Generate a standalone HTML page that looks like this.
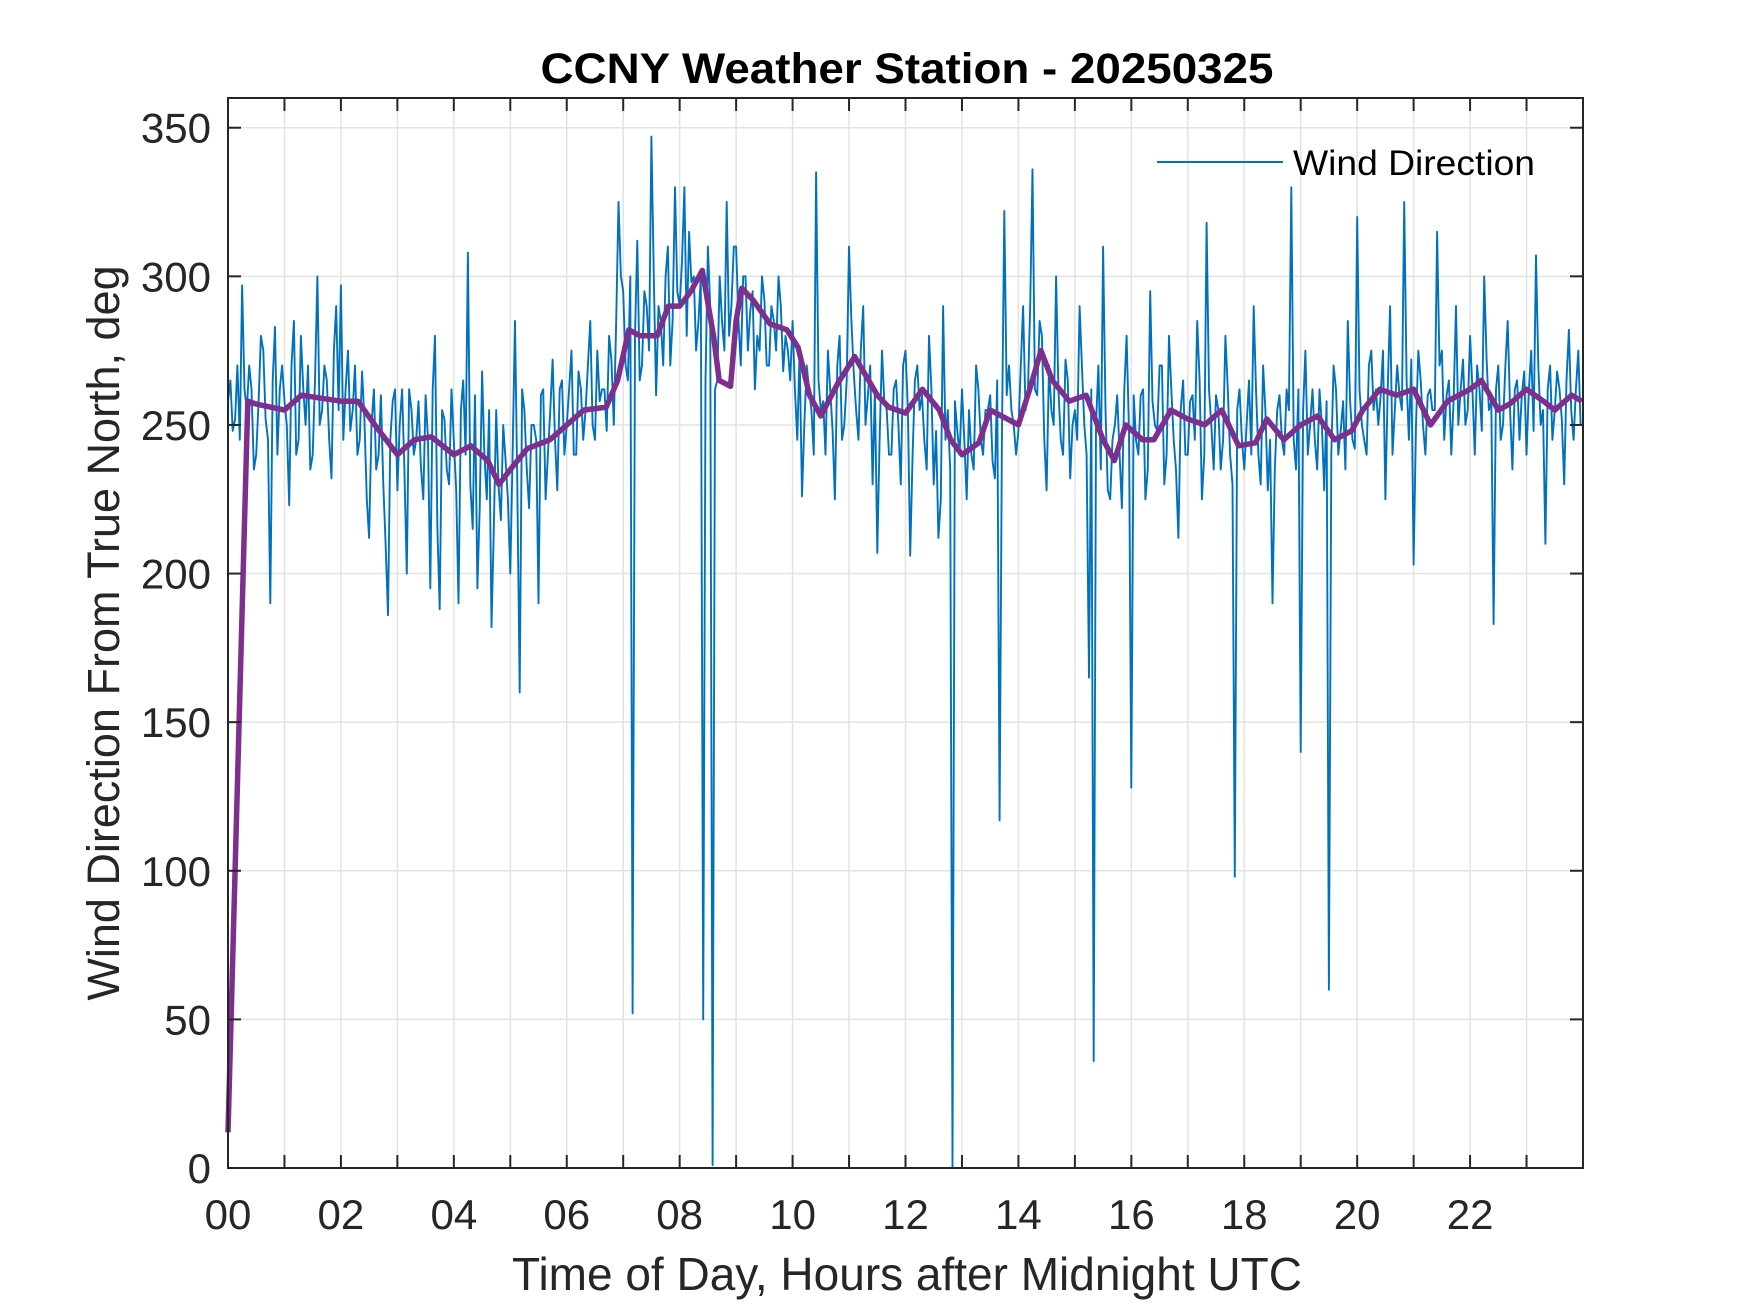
<!DOCTYPE html>
<html><head><meta charset="utf-8"><style>
html,body{margin:0;padding:0;background:#fff;}
svg{display:block;font-family:"Liberation Sans",Arial,sans-serif;}
</style></head><body>
<svg id="chart" width="1750" height="1313" viewBox="0 0 1750 1313">
<rect x="0" y="0" width="1750" height="1313" fill="#fff"/>
<g id="grid"></g>
<g id="series"></g>
<g id="axes"></g>
<text x="907" y="83" text-anchor="middle" font-size="43" font-weight="bold" fill="#000" textLength="733" lengthAdjust="spacingAndGlyphs">CCNY Weather Station - 20250325</text>
<text x="907" y="1290" text-anchor="middle" font-size="46" fill="#262626">Time of Day, Hours after Midnight UTC</text>
<text transform="translate(119,633) rotate(-90)" text-anchor="middle" font-size="45" fill="#262626">Wind Direction From True North, deg</text>
<g>
<line x1="1157" y1="162" x2="1283" y2="162" stroke="#0072BD" stroke-width="2"/>
<text x="1293" y="175" font-size="35" fill="#000" textLength="242" lengthAdjust="spacingAndGlyphs">Wind Direction</text>
</g>
</svg>
<script>
const xTickLabels = ["00","02","04","06","08","10","12","14","16","18","20","22"];
const yTicks = [0,50,100,150,200,250,300,350];
const windDir = [
258,248,270,297,255,262,240,280,252,190,283,262,
258,223,285,245,262,270,240,300,255,265,232,290,
297,262,248,270,245,252,212,262,240,230,186,258,
228,262,200,255,245,236,260,195,280,188,252,230,
245,190,265,308,215,195,268,225,182,255,218,238,
200,285,160,255,222,250,190,262,240,272,228,265,
250,275,240,262,255,285,245,258,262,280,250,325,
295,265,52,312,270,290,347,260,285,300,270,330,
290,330,315,300,285,50,310,1,265,285,325,290,
310,270,300,288,262,275,292,270,285,300,268,275,
285,245,226,270,255,335,255,240,262,225,280,250,
310,268,245,290,260,230,207,275,255,240,265,230,
275,206,265,255,245,280,230,212,290,255,0,248,
262,225,240,270,245,255,260,232,117,322,270,250,
248,290,260,336,260,280,228,255,300,245,272,232,
255,290,250,165,36,270,310,228,245,260,222,280,
128,245,260,225,295,250,270,230,280,245,212,265,
240,260,285,225,318,250,260,235,280,240,98,262,
235,265,290,240,270,228,190,255,245,262,330,235,
140,275,250,245,262,228,60,270,240,258,285,245,
320,250,240,275,262,260,225,290,255,260,325,245,
203,275,250,260,255,315,275,260,240,290,262,250,
280,240,262,300,255,183,270,250,285,235,265,260,
240,275,307,250,210,270,255,262,230,282,245,275
];
const windDirMid = [
265,252,245,262,270,235,258,275,245,265,240,270,
250,270,240,280,250,235,265,250,270,245,275,255,
245,275,255,240,268,225,250,235,260,210,245,262,
250,235,262,240,258,225,245,262,215,255,235,262,
228,255,240,230,260,222,240,255,215,230,250,225,
240,230,262,235,250,245,260,225,255,245,262,240,
262,240,268,245,270,250,275,262,248,272,285,300,
270,300,280,265,295,275,300,290,270,310,285,295,
305,280,298,275,300,265,290,262,300,275,280,310,
285,300,275,295,280,300,270,290,275,290,280,265,
262,275,250,262,240,265,258,275,248,270,245,265,
285,255,275,250,270,262,245,258,240,262,250,270,
255,240,270,260,235,262,248,225,245,235,258,240,
245,255,235,262,240,255,238,265,245,260,255,240,
270,255,290,262,285,245,270,250,262,240,265,250,
245,270,240,262,250,235,255,225,250,240,262,248,
260,240,262,235,258,248,270,240,262,235,255,240,
258,245,265,240,262,235,255,245,262,230,255,245,
250,240,262,230,255,245,235,260,240,255,245,262,
255,240,262,235,250,258,240,262,248,235,258,242,
262,245,270,255,250,275,262,240,270,255,265,272,
250,265,240,262,255,270,245,265,258,250,272,255,
262,270,248,272,258,262,245,270,255,262,245,268,
262,248,270,255,262,245,268,252,265,255,262,250
];
const smoothTimes = [0,0.35,0.5,1.0,1.3,2.0,2.3,2.6,3.0,3.3,3.6,4.0,4.3,4.6,4.8,5.0,5.3,5.7,6.0,6.3,6.7,6.9,7.1,7.3,7.6,7.8,8.0,8.2,8.4,8.6,8.7,8.9,9.0,9.1,9.3,9.6,9.9,10.1,10.3,10.5,10.8,11.1,11.5,11.7,12.0,12.3,12.6,12.8,13.0,13.3,13.5,13.7,14.0,14.2,14.4,14.6,14.9,15.2,15.5,15.7,15.9,16.2,16.4,16.7,17.0,17.3,17.6,17.9,18.2,18.4,18.7,19.0,19.3,19.6,19.9,20.1,20.4,20.7,21.0,21.3,21.6,22.0,22.2,22.5,22.7,23.0,23.3,23.5,23.8,23.98];
const smoothVals = [12,258,257,255,260,258,258,250,240,245,246,240,243,238,230,235,242,245,250,255,256,265,282,280,280,290,290,295,302,280,265,263,285,296,292,284,282,276,260,253,264,273,260,256,254,262,255,245,240,244,255,253,250,262,275,265,258,260,245,238,250,245,245,255,252,250,255,243,244,252,245,250,253,245,248,255,262,260,262,250,258,262,265,255,257,262,258,255,260,258];

const L=228,R=1583,T=98,B=1168,XMAX=24,YMAX=360;
const NS="http://www.w3.org/2000/svg";
function sx(h){return L+(h/XMAX)*(R-L);}
function sy(v){return B-(v/YMAX)*(B-T);}
function mk(tag,attrs,parent){const e=document.createElementNS(NS,tag);for(const k in attrs)e.setAttribute(k,attrs[k]);parent.appendChild(e);return e;}
const grid=document.getElementById('grid'),axes=document.getElementById('axes'),series=document.getElementById('series');

for(let h=1;h<24;h++){
  const g=mk('line',{x1:sx(h),x2:sx(h),y1:T,y2:B,stroke:'#e3e3e3','stroke-width':1.5},grid);
  
  
}
yTicks.forEach(v=>{
  if(v===0)return;
  const g=mk('line',{x1:L,x2:R,y1:sy(v),y2:sy(v),stroke:'#e3e3e3','stroke-width':1.5},grid);
  
  
});

let d='';
windDir.forEach((v,i)=>{
  d+=(i?'L':'M')+sx(i/12).toFixed(1)+','+sy(v).toFixed(1);
  d+='L'+sx((i+0.5)/12).toFixed(1)+','+sy(windDirMid[i]).toFixed(1);
});
const blue=mk('path',{d:d,fill:'none',stroke:'#0072BD','stroke-width':1.9,'stroke-linejoin':'round'},series);



let d2='';
smoothVals.forEach((v,i)=>{d2+=(i?'L':'M')+sx(smoothTimes[i]).toFixed(1)+','+sy(v).toFixed(1);});
const purp=mk('path',{d:d2,fill:'none',stroke:'#7E2F8E','stroke-width':5.5,'stroke-linejoin':'round'},series);



const box=mk('rect',{x:L,y:T,width:R-L,height:B-T,fill:'none',stroke:'#262626','stroke-width':2},axes);



for(let h=1;h<24;h++){
  const t1=mk('line',{x1:sx(h),x2:sx(h),y1:B,y2:B-13,stroke:'#262626','stroke-width':2},axes);
  
  
  const t2=mk('line',{x1:sx(h),x2:sx(h),y1:T,y2:T+13,stroke:'#262626','stroke-width':2},axes);
  
  
}
xTickLabels.forEach((lab,i)=>{
  const t=mk('text',{x:sx(i*2),y:1229,'text-anchor':'middle','font-size':42,fill:'#262626'},axes);
  t.textContent=lab;
  
  
});
yTicks.forEach(v=>{
  const a=mk('line',{x1:L,x2:L+13,y1:sy(v),y2:sy(v),stroke:'#262626','stroke-width':2},axes);
  
  
  const b=mk('line',{x1:R,x2:R-13,y1:sy(v),y2:sy(v),stroke:'#262626','stroke-width':2},axes);
  
  
  const t=mk('text',{x:211,y:sy(v)+15,'text-anchor':'end','font-size':42,fill:'#262626'},axes);
  t.textContent=String(v);
  
  
});
</script>
</body></html>
